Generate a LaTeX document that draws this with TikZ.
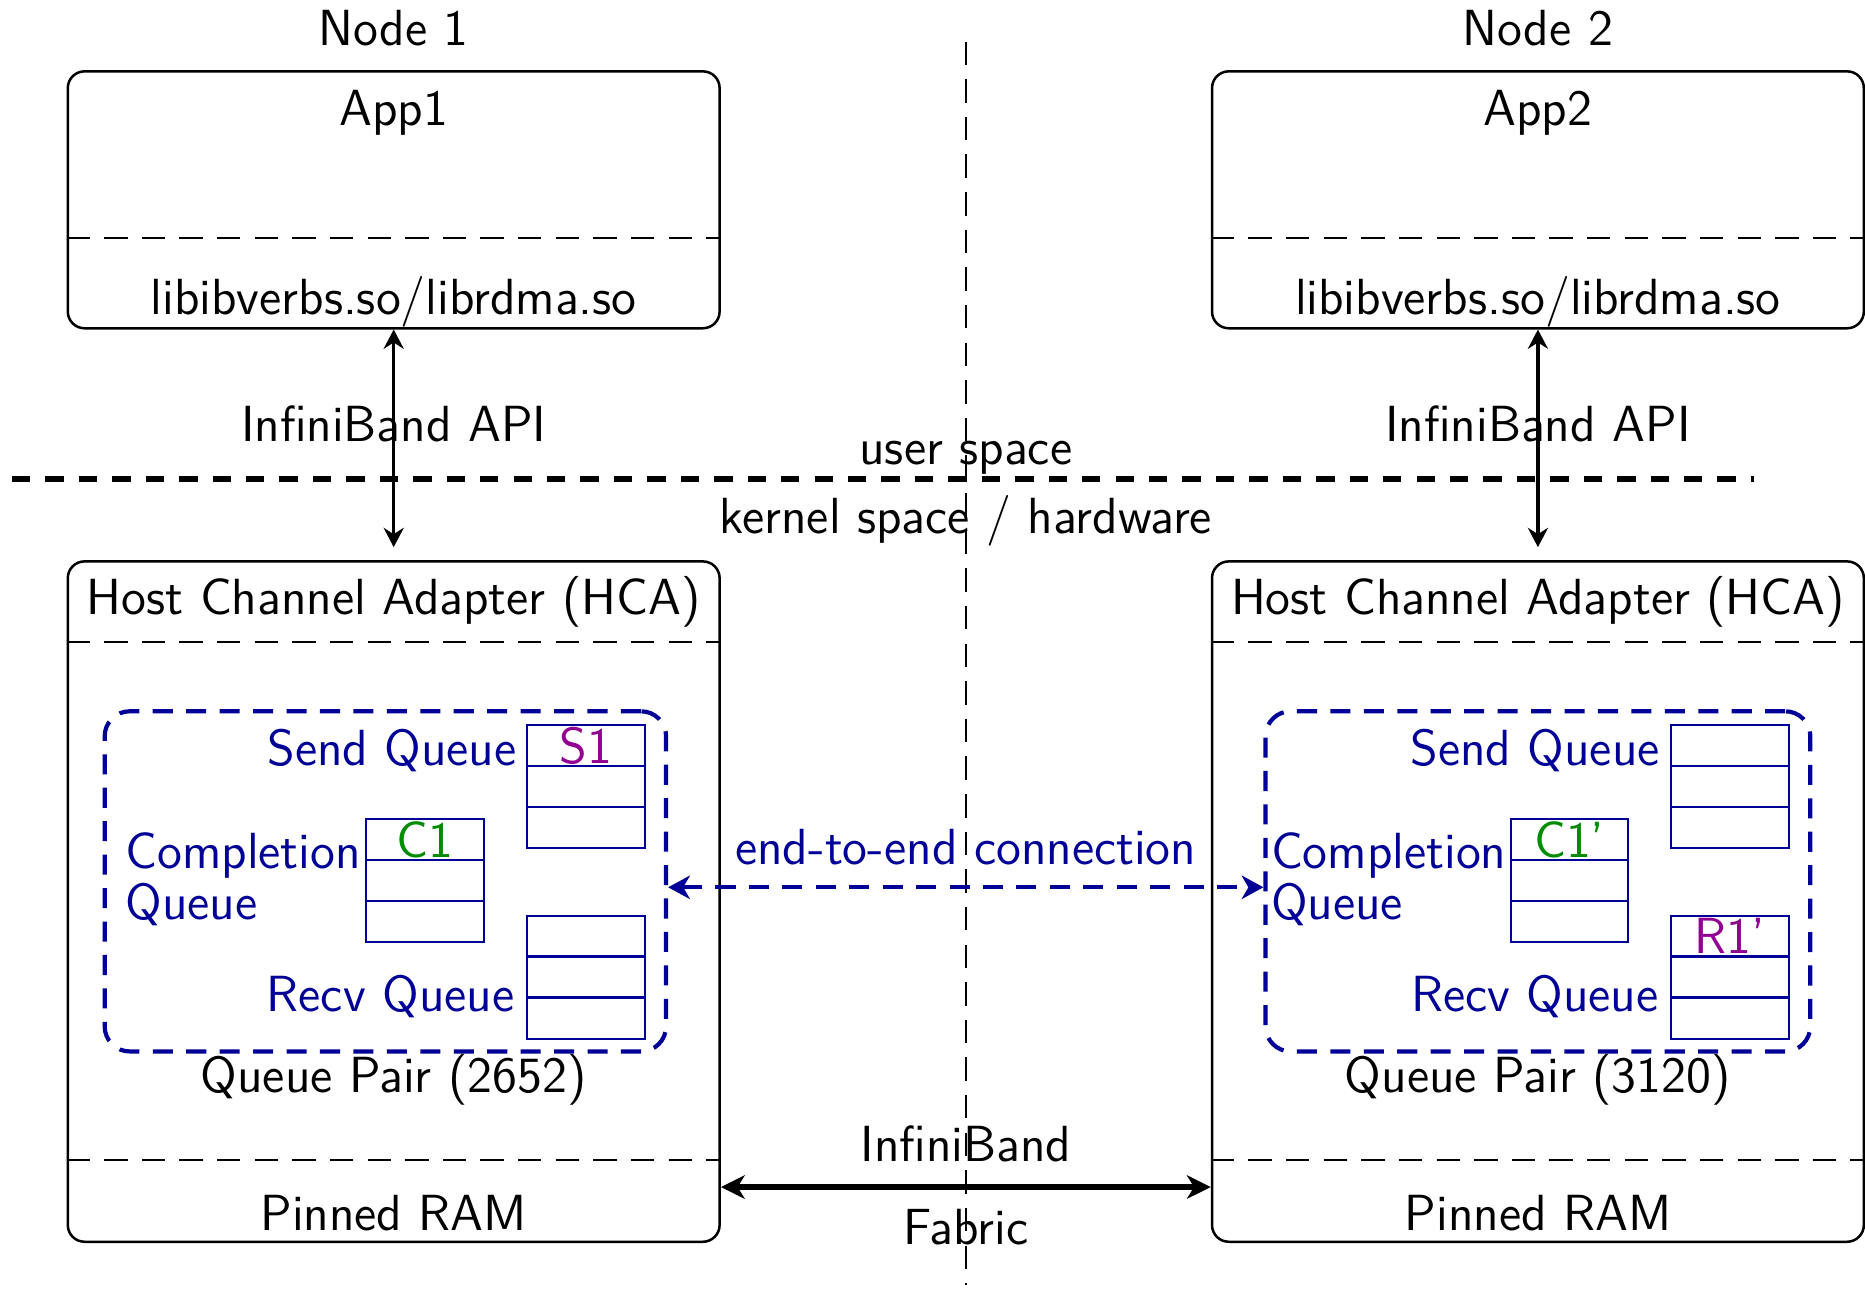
\documentclass[tikz,border=0pt]{standalone}
\usetikzlibrary{arrows.meta,positioning}
\renewcommand{\familydefault}{\sfdefault}
\definecolor{qblue}{RGB}{0,0,150}
\definecolor{qgreen}{RGB}{0,140,0}
\definecolor{qpurple}{RGB}{145,0,145}
\tikzset{
  box/.style={draw, line width=0.6pt, rounded corners=4pt, inner sep=0pt},
  part/.style={line width=0.5pt, dash pattern=on 5.6pt off 3.4pt},
  qpair/.style={draw=qblue, line width=1pt, dash pattern=on 4.8pt off 3.2pt, rounded corners=6pt, inner sep=0pt},
  cell/.style={draw=qblue, line width=0.5pt, minimum width=0.99cm, minimum height=0.343cm, inner sep=0pt},
  qtext/.style={text=qblue, inner sep=0pt},
}
\begin{document}
\begin{tikzpicture}[font=\fontsize{12.15pt}{12.2pt}\selectfont, >={Stealth[length=4.6pt,width=4.8pt,inset=1.5pt]}]
    \useasboundingbox (0,0) rectangle (15.68,-10.83);
    % node 1
    \node (n1) at (3.31,-0.24) {Node 1};
    \node[box, minimum width=5.48cm, minimum height=2.16cm] (app1) at (3.31,-1.68) {};
    \node (app1txt) at (3.31,-0.95) {App1};
    \node (lib1) at (3.31,-2.54) {libibverbs.so/librdma.so};
    \draw[part] ([yshift=-0.32cm]app1.west) -- ([yshift=-0.32cm]app1.east);
    \node[box, minimum width=5.48cm, minimum height=5.72cm] (hca1) at (3.31,-7.58) {};
    \node (hca1txt) at (3.31,-5.06) {Host Channel Adapter (HCA)};
    \node (ram1) at (3.31,-10.20) {Pinned RAM};
    \draw[part] ([yshift=2.18cm]hca1.west) -- ([yshift=2.18cm]hca1.east);
    \draw[part] ([yshift=-2.17cm]hca1.west) -- ([yshift=-2.17cm]hca1.east);
    \node[qpair, minimum width=4.72cm, minimum height=2.86cm] (qp1) at (3.24,-7.41) {};
    \node (qp1txt) at (3.31,-9.08) {Queue Pair (2652)};
    \node[cell] (sq1a) at (4.925,-6.27) {\textcolor{qpurple}{S1}};
    \node[cell] (sq1b) at (4.925,-6.615) {};
    \node[cell] (sq1c) at (4.925,-6.96) {};
    \node[cell] (cq1a) at (3.575,-7.06) {\textcolor{qgreen}{C1}};
    \node[cell] (cq1b) at (3.575,-7.405) {};
    \node[cell] (cq1c) at (3.575,-7.75) {};
    \node[cell] (rq1a) at (4.925,-7.87) {};
    \node[cell] (rq1b) at (4.925,-8.215) {};
    \node[cell] (rq1c) at (4.925,-8.56) {};
    \node[qtext, anchor=east] (sq1txt) at (4.35,-6.31) {Send Queue};
    \node[qtext, anchor=west, align=left] (cq1txt) at (1.05,-7.395) {Completion\\Queue};
    \node[qtext, anchor=east] (rq1txt) at (4.33,-8.38) {Recv Queue};
    \coordinate (api1) at (3.31,-4.60);
    \draw[<->, line width=0.8pt] (app1.south) -- (api1);
    \node (api1txt) at (3.31,-3.56) {InfiniBand API};
    % node 2
    \node (n2) at (12.93,-0.24) {Node 2};
    \node[box, minimum width=5.48cm, minimum height=2.16cm] (app2) at (12.93,-1.68) {};
    \node (app2txt) at (12.93,-0.95) {App2};
    \node (lib2) at (12.93,-2.54) {libibverbs.so/librdma.so};
    \draw[part] ([yshift=-0.32cm]app2.west) -- ([yshift=-0.32cm]app2.east);
    \node[box, minimum width=5.48cm, minimum height=5.72cm] (hca2) at (12.93,-7.58) {};
    \node (hca2txt) at (12.93,-5.06) {Host Channel Adapter (HCA)};
    \node (ram2) at (12.93,-10.20) {Pinned RAM};
    \draw[part] ([yshift=2.18cm]hca2.west) -- ([yshift=2.18cm]hca2.east);
    \draw[part] ([yshift=-2.17cm]hca2.west) -- ([yshift=-2.17cm]hca2.east);
    \node[qpair, minimum width=4.58cm, minimum height=2.86cm] (qp2) at (12.93,-7.41) {};
    \node (qp2txt) at (12.93,-9.08) {Queue Pair (3120)};
    \node[cell] (sq2a) at (14.545,-6.27) {};
    \node[cell] (sq2b) at (14.545,-6.615) {};
    \node[cell] (sq2c) at (14.545,-6.96) {};
    \node[cell] (cq2a) at (13.195,-7.06) {\textcolor{qgreen}{C1'}};
    \node[cell] (cq2b) at (13.195,-7.405) {};
    \node[cell] (cq2c) at (13.195,-7.75) {};
    \node[cell] (rq2a) at (14.545,-7.87) {\textcolor{qpurple}{R1'}};
    \node[cell] (rq2b) at (14.545,-8.215) {};
    \node[cell] (rq2c) at (14.545,-8.56) {};
    \node[qtext, anchor=east] (sq2txt) at (13.96,-6.31) {Send Queue};
    \node[qtext, anchor=west, align=left] (cq2txt) at (10.68,-7.395) {Completion\\Queue};
    \node[qtext, anchor=east] (rq2txt) at (13.95,-8.38) {Recv Queue};
    \coordinate (api2) at (12.93,-4.60);
    \draw[<->, line width=0.8pt] (app2.south) -- (api2);
    \node (api2txt) at (12.93,-3.56) {InfiniBand API};
    % user / kernel split
    \coordinate (vtop) at (8.12,-0.35);
    \coordinate (vbot) at (8.12,-10.80);
    \draw[part] (vtop) -- (vbot);
    \coordinate (sepL) at (0.10,-4.03);
    \coordinate (sepR) at (14.75,-4.03);
    \draw[line width=1.4pt, dash pattern=on 4.4pt off 3.6pt] (sepL) -- (sepR);
    \node (user) at (8.12,-3.85) {user space};
    \node (kernel) at (8.12,-4.38) {kernel space / hardware};
    % connections
    \draw[<->, qblue, line width=1pt, dash pattern=on 4.8pt off 3.2pt, >={Stealth[length=5.2pt,width=5.6pt,inset=1.6pt]}] ([yshift=-0.05cm]qp1.east) -- ([yshift=-0.05cm]qp2.west);
    \node[text=qblue] (e2e) at (8.12,-7.12) {end-to-end connection};
    \coordinate (fab) at (8.12,-9.98);
    \draw[<->, line width=1.3pt, >={Stealth[length=5.7pt,width=5.6pt,inset=1.7pt]}] (hca1.east |- fab) -- (hca2.west |- fab);
    \node (fab1) at (8.12,-9.62) {InfiniBand};
    \node (fab2) at (8.12,-10.32) {Fabric};
\end{tikzpicture}
\end{document}
